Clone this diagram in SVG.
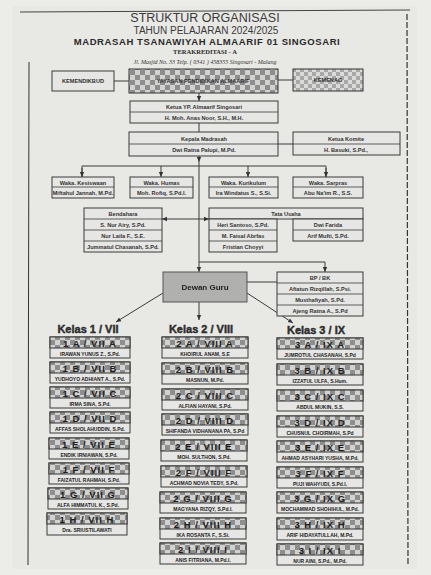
<svg xmlns="http://www.w3.org/2000/svg" width="431" height="575" viewBox="0 0 431 575">
<defs>
<pattern id="chk" patternUnits="userSpaceOnUse" width="10" height="10">
<rect width="10" height="10" fill="#d2d2d0"/>
<rect width="5" height="5" fill="#8e8e8e"/>
<rect x="5" y="5" width="5" height="5" fill="#8e8e8e"/>
</pattern>
<pattern id="chkL" patternUnits="userSpaceOnUse" width="8" height="8">
<rect width="8" height="8" fill="#dadad8"/>
<rect width="4" height="4" fill="#a8a8a8"/>
<rect x="4" y="4" width="4" height="4" fill="#a8a8a8"/>
</pattern>
<marker id="ar" markerWidth="6" markerHeight="6" refX="5" refY="3" orient="auto" markerUnits="userSpaceOnUse">
<path d="M0,0.8 L5,3 L0,5.2 Z" fill="#333"/>
</marker>
<filter id="soft" x="-5%" y="-5%" width="110%" height="110%"><feGaussianBlur stdDeviation="0.5"/></filter>
</defs>
<style>
.box{fill:#e6e6e4;stroke:#3a3a3a;stroke-width:1}
.sep{stroke:#3a3a3a;stroke-width:0.8}
.t{font-family:"Liberation Sans",Arial,sans-serif;font-size:5.6px;font-weight:bold;fill:#333;text-anchor:middle}
.cn{font-family:"Liberation Sans",Arial,sans-serif;font-size:5px;font-weight:bold;fill:#222;text-anchor:middle}
.ch{font-family:"Liberation Sans",Arial,sans-serif;font-size:9.5px;font-weight:bold;fill:#1e1e1e;text-anchor:middle;letter-spacing:1px}
.kl{font-family:"Liberation Sans",Arial,sans-serif;font-size:11px;font-weight:900;fill:#333;stroke:#222;stroke-width:0.4;text-anchor:middle}
.ln{stroke:#3a3a3a;stroke-width:1;fill:none}
</style>
<rect width="431" height="575" fill="#ecece9"/>
<rect x="12" y="6" width="405" height="563" fill="#e8e8e5"/>
<line x1="20" y1="12" x2="410" y2="10" stroke="#444" stroke-width="1"/>
<line x1="29" y1="62" x2="28" y2="565" stroke="#333" stroke-width="1"/>
<line x1="407" y1="14" x2="408" y2="565" stroke="#333" stroke-width="1.2" stroke-dasharray="6,2"/>

<g id="header">
<text x="205" y="22" font-family="Liberation Sans,Arial,sans-serif" font-size="12.5" fill="#3a3a3a" text-anchor="middle">STRUKTUR ORGANISASI</text>
<text x="206" y="34" font-family="Liberation Sans,Arial,sans-serif" font-size="10" fill="#3a3a3a" text-anchor="middle">TAHUN PELAJARAN 2024/2025</text>
<text x="207" y="45" font-family="Liberation Sans,Arial,sans-serif" font-size="9.5" font-weight="bold" fill="#2a2a2a" text-anchor="middle" letter-spacing="0.6">MADRASAH TSANAWIYAH ALMAARIF 01 SINGOSARI</text>
<text x="205" y="54" font-family="Liberation Serif,serif" font-size="6.5" font-weight="bold" fill="#2a2a2a" text-anchor="middle">TERAKREDITASI - A</text>
<text x="205" y="64" font-family="Liberation Serif,serif" font-size="6" font-style="italic" fill="#333" text-anchor="middle">Jl. Masjid No. 33 Telp. ( 0341 ) 458355 Singosari - Malang</text>
</g>

<g id="connectors">
<line class="ln" x1="114" y1="81" x2="129" y2="81"/>
<line class="ln" x1="278" y1="80" x2="293" y2="80"/>
<line class="ln" x1="199" y1="93" x2="199" y2="101" marker-end="url(#ar)"/>
<line class="ln" x1="199" y1="123" x2="199" y2="132"/>
<line class="ln" x1="278" y1="144" x2="293" y2="144"/>
<line class="ln" x1="199" y1="156" x2="199" y2="162" marker-end="url(#ar)"/>
<line class="ln" x1="199" y1="162" x2="199" y2="272" marker-end="url(#ar)"/>
<polyline class="ln" points="82,177 82,166 326,166 326,177"/>
<line class="ln" x1="82" y1="168" x2="82" y2="177" marker-end="url(#ar)"/>
<line class="ln" x1="161" y1="166" x2="161" y2="177" marker-end="url(#ar)"/>
<line class="ln" x1="248" y1="166" x2="248" y2="177" marker-end="url(#ar)"/>
<line class="ln" x1="326" y1="168" x2="326" y2="177" marker-end="url(#ar)"/>
<line class="ln" x1="170" y1="219" x2="162" y2="219" marker-end="url(#ar)"/>
<line class="ln" x1="170" y1="219" x2="209" y2="219" marker-end="url(#ar)"/>
<polyline class="ln" points="199,262 325,262 325,272" marker-end="url(#ar)"/>
<line class="ln" x1="247" y1="282" x2="277" y2="282"/>
<line class="ln" x1="163" y1="293" x2="116" y2="322" marker-end="url(#ar)"/>
<line class="ln" x1="199" y1="302" x2="199" y2="320" marker-end="url(#ar)"/>
<line class="ln" x1="247" y1="293" x2="293" y2="323" marker-end="url(#ar)"/>
</g>

<g id="kemendikbud"><rect class="box" x="52" y="71" width="62" height="20"/><text class="t" x="83" y="83">KEMENDIKBUD</text></g>
<g id="yayasan"><rect x="129" y="69" width="149" height="24" fill="url(#chk)" stroke="#333"/><text class="t" x="203" y="83" font-size="6.5" fill="#1a1a1a">YAYASAN PENDIDIKAN ALMAARIF</text></g>
<g id="kemenag"><rect x="293" y="69" width="70" height="22" fill="url(#chkL)" stroke="#333"/><text class="t" x="328" y="82" font-size="6" fill="#1a1a1a">KEMENAG</text></g>

<g id="ketua-yp"><rect class="box" x="130" y="101" width="148" height="22"/><line class="sep" x1="130" y1="112" x2="278" y2="112"/><text class="t" x="204" y="109">Ketua YP. Almaarif Singosari</text><text class="t" x="204" y="120">H. Moh. Anas Noor, S.H., M.H.</text></g>
<g id="kepala"><rect class="box" x="129" y="132" width="149" height="24"/><line class="sep" x1="129" y1="144" x2="278" y2="144"/><text class="t" x="204" y="141">Kepala Madrasah</text><text class="t" x="204" y="152">Dwi Ratna Palupi, M.Pd.</text></g>
<g id="komite"><rect class="box" x="293" y="132" width="107" height="23"/><line class="sep" x1="293" y1="144" x2="400" y2="144"/><text class="t" x="346" y="141">Ketua Komite</text><text class="t" x="346" y="152">H. Basuki, S.Pd.,</text></g>

<g id="waka-kesiswaan"><rect class="box" x="52" y="177" width="62" height="21"/><line class="sep" x1="52" y1="187" x2="114" y2="187"/><text class="t" x="83" y="184.5">Waka. Kesiswaan</text><text class="t" x="83" y="195">Miftahul Jannah, M.Pd.</text></g>
<g id="waka-humas"><rect class="box" x="130" y="177" width="63" height="21"/><line class="sep" x1="130" y1="187" x2="193" y2="187"/><text class="t" x="161.5" y="184.5">Waka. Humas</text><text class="t" x="161.5" y="195">Moh. Rofiq, S.Pd.I.</text></g>
<g id="waka-kurikulum"><rect class="box" x="209" y="177" width="69" height="21"/><line class="sep" x1="209" y1="187" x2="278" y2="187"/><text class="t" x="243.5" y="184.5">Waka. Kurikulum</text><text class="t" x="243.5" y="195">Ira Windatus S., S.Si.</text></g>
<g id="waka-sarpras"><rect class="box" x="293" y="177" width="70" height="21"/><line class="sep" x1="293" y1="187" x2="363" y2="187"/><text class="t" x="328" y="184.5">Waka. Sarpras</text><text class="t" x="328" y="195">Abu Na'im R., S.S.</text></g>

<g id="bendahara"><rect class="box" x="84" y="208" width="78" height="44"/><line class="sep" x1="84" y1="219" x2="162" y2="219"/><line class="sep" x1="84" y1="230" x2="162" y2="230"/><line class="sep" x1="84" y1="241" x2="162" y2="241"/><text class="t" x="123" y="216">Bendahara</text><text class="t" x="123" y="227">S. Nur Airy, S.Pd.</text><text class="t" x="123" y="238">Nur Laila F., S.E.</text><text class="t" x="123" y="249">Jummatul Chasanah, S.Pd.</text></g>
<g id="tata-usaha"><rect class="box" x="209" y="208" width="154" height="11"/><text class="t" x="286" y="216">Tata Usaha</text><rect class="box" x="209" y="219" width="68" height="33"/><line class="sep" x1="209" y1="230" x2="277" y2="230"/><line class="sep" x1="209" y1="241" x2="277" y2="241"/><text class="t" x="243" y="227">Heri Santoso, S.Pd.</text><text class="t" x="243" y="238">M. Faisal Abrfas</text><text class="t" x="243" y="249">Fristian Choyyi</text><rect class="box" x="293" y="219" width="70" height="22"/><line class="sep" x1="293" y1="230" x2="363" y2="230"/><text class="t" x="328" y="227">Dwi Farida</text><text class="t" x="328" y="238">Arif Mufti, S.Pd.</text></g>

<g id="dewan-guru"><rect x="163" y="272" width="84" height="30" fill="#b0b0ae" stroke="#555"/><text x="205" y="290" font-family="Liberation Sans,Arial,sans-serif" font-size="8" font-weight="bold" fill="#222" text-anchor="middle" filter="url(#soft)">Dewan Guru</text></g>
<g id="bp-bk"><rect class="box" x="277" y="272" width="86" height="44"/><line class="sep" x1="277" y1="283" x2="363" y2="283"/><line class="sep" x1="277" y1="294" x2="363" y2="294"/><line class="sep" x1="277" y1="305" x2="363" y2="305"/><text class="t" x="320" y="280">BP / BK</text><text class="t" x="320" y="291">Afiatun Rizqillah, S.Psi.</text><text class="t" x="320" y="302">Musthafiyah, S.Pd.</text><text class="t" x="320" y="313">Ajeng Ratna A., S.Pd</text></g>

<g id="kelas-labels">
<text class="kl" x="88" y="333">Kelas 1 / VII</text>
<text class="kl" x="201" y="333">Kelas 2 / VIII</text>
<text class="kl" x="316" y="334">Kelas 3 / IX</text>
</g>

<g id="k1a"><rect class="box" x="50" y="337" width="80" height="21"/><rect x="50" y="337" width="80" height="11" fill="url(#chk)" stroke="#333"/><text class="ch" x="90" y="346.5">1 A / VII A</text><text class="cn" x="90" y="355.5">IRAWAN YUNUS Z., S.Pd.</text></g>
<g id="k1b"><rect class="box" x="50" y="362" width="80" height="21"/><rect x="50" y="362" width="80" height="11" fill="url(#chk)" stroke="#333"/><text class="ch" x="90" y="371.5">1 B / VII B</text><text class="cn" x="90" y="380.5">YUDHOYO ADHIANT A., S.Pd.</text></g>
<g id="k1c"><rect class="box" x="50" y="387" width="80" height="21"/><rect x="50" y="387" width="80" height="11" fill="url(#chk)" stroke="#333"/><text class="ch" x="90" y="396.5">1 C / VII C</text><text class="cn" x="90" y="405.5">IRMA SINA, S.Pd.</text></g>
<g id="k1d"><rect class="box" x="50" y="412" width="80" height="21"/><rect x="50" y="412" width="80" height="11" fill="url(#chk)" stroke="#333"/><text class="ch" x="90" y="421.5">1 D / VII D</text><text class="cn" x="90" y="430.5">AFFAS SHOLAHUDDIN, S.Pd.</text></g>
<g id="k1e"><rect class="box" x="49" y="438" width="80" height="21"/><rect x="49" y="438" width="80" height="11" fill="url(#chk)" stroke="#333"/><text class="ch" x="89" y="447.5">1 E / VII E</text><text class="cn" x="89" y="456.5">ENDIK IRNIAWAN, S.Pd.</text></g>
<g id="k1f"><rect class="box" x="49" y="463" width="80" height="21"/><rect x="49" y="463" width="80" height="11" fill="url(#chk)" stroke="#333"/><text class="ch" x="89" y="472.5">1 F / VII F</text><text class="cn" x="89" y="481.5">FAIZATUL RAHMAH, S.Pd.</text></g>
<g id="k1g"><rect class="box" x="48" y="488" width="80" height="21"/><rect x="48" y="488" width="80" height="11" fill="url(#chk)" stroke="#333"/><text class="ch" x="88" y="497.5">1 G / VII G</text><text class="cn" x="88" y="506.5">ALFA HIMMATUL K., S.Pd.</text></g>
<g id="k1h"><rect class="box" x="47" y="513" width="80" height="22"/><rect x="47" y="513" width="80" height="11" fill="url(#chk)" stroke="#333"/><text class="ch" x="87" y="522.5">1 H / VII H</text><text class="cn" x="87" y="532">Dra. SRIUSTILAWATI</text></g>

<g id="k2a"><rect class="box" x="162" y="337" width="86" height="21"/><rect x="162" y="337" width="86" height="11" fill="url(#chk)" stroke="#333"/><text class="ch" x="205" y="346.5">2 A / VIII A</text><text class="cn" x="205" y="355.5">KHOIRUL ANAM, S.E</text></g>
<g id="k2b"><rect class="box" x="162" y="363" width="86" height="21"/><rect x="162" y="363" width="86" height="11" fill="url(#chk)" stroke="#333"/><text class="ch" x="205" y="372.5">2 B / VIII B</text><text class="cn" x="205" y="381.5">MASNUN, M.Pd.</text></g>
<g id="k2c"><rect class="box" x="162" y="389" width="86" height="21"/><rect x="162" y="389" width="86" height="11" fill="url(#chk)" stroke="#333"/><text class="ch" x="205" y="398.5">2 C / VIII C</text><text class="cn" x="205" y="407.5">ALFIAN HAYANI, S.Pd.</text></g>
<g id="k2d"><rect class="box" x="162" y="414" width="86" height="21"/><rect x="162" y="414" width="86" height="11" fill="url(#chk)" stroke="#333"/><text class="ch" x="205" y="423.5">2 D / VIII D</text><text class="cn" x="205" y="432.5">SHIFANDA VIDHANANA PA, S.Pd</text></g>
<g id="k2e"><rect class="box" x="161" y="440" width="86" height="21"/><rect x="161" y="440" width="86" height="11" fill="url(#chk)" stroke="#333"/><text class="ch" x="204" y="449.5">2 E / VIII E</text><text class="cn" x="204" y="458.5">MOH. SULTHON, S.Pd.</text></g>
<g id="k2f"><rect class="box" x="161" y="466" width="86" height="21"/><rect x="161" y="466" width="86" height="11" fill="url(#chk)" stroke="#333"/><text class="ch" x="204" y="475.5">2 F / VIII F</text><text class="cn" x="204" y="484.5">ACHMAD NOVIA TEDY, S.Pd.</text></g>
<g id="k2g"><rect class="box" x="160" y="492" width="86" height="21"/><rect x="160" y="492" width="86" height="11" fill="url(#chk)" stroke="#333"/><text class="ch" x="203" y="501.5">2 G / VIII G</text><text class="cn" x="203" y="510.5">MAGYANA RIZQY, S.Pd.I.</text></g>
<g id="k2h"><rect class="box" x="160" y="518" width="86" height="21"/><rect x="160" y="518" width="86" height="11" fill="url(#chk)" stroke="#333"/><text class="ch" x="203" y="527.5">2 H / VIII H</text><text class="cn" x="203" y="536.5">IKA ROSANTA F., S.Si.</text></g>
<g id="k2i"><rect class="box" x="160" y="543" width="86" height="21"/><rect x="160" y="543" width="86" height="11" fill="url(#chk)" stroke="#333"/><text class="ch" x="203" y="552.5">2 I / VIII I</text><text class="cn" x="203" y="561.5">ANIS FITRIANA, M.Pd.I.</text></g>

<g id="k3a"><rect class="box" x="277" y="338" width="86" height="21"/><rect x="277" y="338" width="86" height="11" fill="url(#chk)" stroke="#333"/><text class="ch" x="320" y="347.5">3 A / IX A</text><text class="cn" x="320" y="356.5">JUMROTUL CHASANAH, S.Pd</text></g>
<g id="k3b"><rect class="box" x="277" y="364" width="86" height="21"/><rect x="277" y="364" width="86" height="11" fill="url(#chk)" stroke="#333"/><text class="ch" x="320" y="373.5">3 B / IX B</text><text class="cn" x="320" y="382.5">IZZATUL ULFA, S.Hum.</text></g>
<g id="k3c"><rect class="box" x="277" y="390" width="86" height="21"/><rect x="277" y="390" width="86" height="11" fill="url(#chk)" stroke="#333"/><text class="ch" x="320" y="399.5">3 C / IX C</text><text class="cn" x="320" y="408.5">ABDUL MUKIN, S.S.</text></g>
<g id="k3d"><rect class="box" x="277" y="416" width="86" height="21"/><rect x="277" y="416" width="86" height="11" fill="url(#chk)" stroke="#333"/><text class="ch" x="320" y="425.5">3 D / IX D</text><text class="cn" x="320" y="434.5">CHUSNUL CHOIRMAH, S.Pd</text></g>
<g id="k3e"><rect class="box" x="277" y="441" width="86" height="21"/><rect x="277" y="441" width="86" height="11" fill="url(#chk)" stroke="#333"/><text class="ch" x="320" y="450.5">3 E / IX E</text><text class="cn" x="320" y="459.5">AHMAD ASYHARI YUSHA, M.Pd.</text></g>
<g id="k3f"><rect class="box" x="277" y="467" width="86" height="21"/><rect x="277" y="467" width="86" height="11" fill="url(#chk)" stroke="#333"/><text class="ch" x="320" y="476.5">3 F / IX F</text><text class="cn" x="320" y="485.5">PUJI WAHYUDI, S.Pd.I.</text></g>
<g id="k3g"><rect class="box" x="277" y="492" width="86" height="21"/><rect x="277" y="492" width="86" height="11" fill="url(#chk)" stroke="#333"/><text class="ch" x="320" y="501.5">3 G / IX G</text><text class="cn" x="320" y="510.5">MOCHAMMAD SHOHIHUL, M.Pd.</text></g>
<g id="k3h"><rect class="box" x="277" y="518" width="86" height="22"/><rect x="277" y="518" width="86" height="11" fill="url(#chk)" stroke="#333"/><text class="ch" x="320" y="527.5">3 H / IX H</text><text class="cn" x="320" y="537">ARIF HIDAYATULLAH, M.Pd.</text></g>
<g id="k3i"><rect class="box" x="277" y="544" width="86" height="21"/><rect x="277" y="544" width="86" height="11" fill="url(#chk)" stroke="#333"/><text class="ch" x="320" y="553.5">3 I / IX I</text><text class="cn" x="320" y="562.5">NUR AINI, S.Pd., M.Pd.</text></g>
</svg>
